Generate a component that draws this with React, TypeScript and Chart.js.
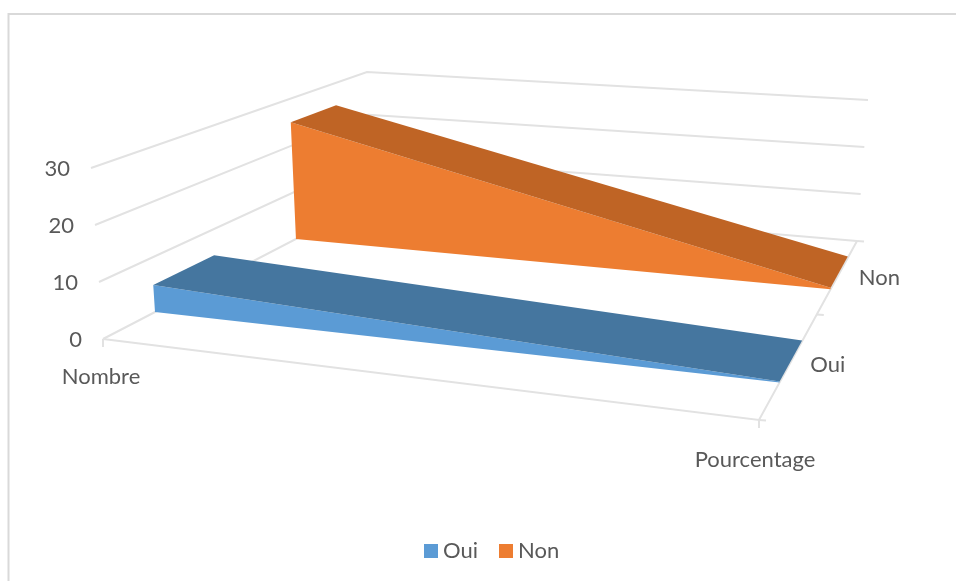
import { useEffect, useRef } from "react";
import { Chart, registerables } from "chart.js";

Chart.register(...registerables);

// Values
const categories = ["Nombre", "Pourcentage"];
const seriesNames = ["Oui", "Non"];
const ouiValues = [5, 0.15];
const nonValues = [25, 0.3];
const valueTicks = [0, 10, 20, 30];

const WIDTH = 956;
const HEIGHT = 581;
const MAX_VALUE = 30;

// Projection of the 3D box: eight corners of the plot cube on the page plane.
const floorCorners = { fl: [103, 339], fr: [759, 420], bl: [371, 200], br: [857, 241] };
const topCorners = { fl: [91, 168], fr: [767, 232], bl: [367, 72], br: [868, 100] };

// Depth band of each series along the left and right floor edges.
const ouiDepth = [[0.194, 0.42], [0.21, 0.44]];
const nonDepth = [[0.72, 0.885], [0.73, 0.905]];

const mix = (a: number[], b: number[], t: number) => [a[0] + (b[0] - a[0]) * t, a[1] + (b[1] - a[1]) * t];

function project(u: number, d: number, value: number) {
  const floor = mix(mix(floorCorners.fl, floorCorners.bl, d), mix(floorCorners.fr, floorCorners.br, d), u);
  const top = mix(mix(topCorners.fl, topCorners.bl, d), mix(topCorners.fr, topCorners.br, d), u);
  const [x, y] = mix(floor, top, value / MAX_VALUE);
  return { x, y };
}

const line = (label: string, data: { x: number; y: number }[], color: string, width = 2) => ({
  type: "line" as const,
  label,
  data,
  borderColor: color,
  backgroundColor: color,
  borderWidth: width,
  pointRadius: 0,
  fill: false,
  tension: 0,
  order: 100,
  clip: false,
});

const face = (label: string, data: { x: number; y: number }[], color: string, order: number) => ({
  type: "line" as const,
  label,
  data,
  borderColor: color,
  backgroundColor: color,
  borderWidth: 0,
  pointRadius: 0,
  fill: "shape",
  tension: 0,
  order,
  clip: false,
});

// Front face and sloped top of one area band.
function band(name: string, values: number[], depth: number[][], front: string, top: string, order: number) {
  const frontFace = [
    project(0, depth[0][0], 0),
    project(0, depth[0][0], values[0]),
    project(1, depth[1][0], values[1]),
    project(1, depth[1][0], 0),
    project(0, depth[0][0], 0),
  ];
  const topFace = [
    project(0, depth[0][0], values[0]),
    project(0, depth[0][1], values[0]),
    project(1, depth[1][1], values[1]),
    project(1, depth[1][0], values[1]),
    project(0, depth[0][0], values[0]),
  ];
  return [face(name, frontFace, front, order + 1), face(name + " (dessus)", topFace, top, order)];
}

const GRID = "#e2e2e2";
const FRAME = "#d9d9d9";
const COLORS = { oui: "#5b9bd5", ouiTop: "#45769f", non: "#ed7d31", nonTop: "#bf6425" };

const gridLines = valueTicks.map((v) =>
  line(`grille ${v}`, [project(0, 0, v), project(0, 1, v), project(1, 1, v)], GRID)
);
const floorEdges = [
  line("axe catégories", [project(0, 0, 0), project(1, 0, 0), project(1, 1, 0)], GRID),
  line("repère Nombre", [project(0, 0, 0), { x: project(0, 0, 0).x, y: project(0, 0, 0).y + 8 }], GRID),
  line("repère Pourcentage", [project(1, 0, 0), { x: project(1, 0, 0).x, y: project(1, 0, 0).y + 8 }], GRID),
  ...[0, 0.59, 1].map((d) => {
    const p = project(1, d, 0);
    return line(`repère profondeur ${d}`, [p, { x: p.x + 7, y: p.y + 0.5 }], GRID);
  }),
];

const FONT = '22px Lato, "Open Sans", sans-serif';
const TEXT = "#595959";

// Tick labels, category labels, legend and the frame of the chart object.
const annotations = {
  id: "annotations",
  beforeDraw(chart: Chart) {
    const { ctx, scales } = chart;
    const X = (v: number) => scales.x.getPixelForValue(v);
    const Y = (v: number) => scales.y.getPixelForValue(v);
    ctx.save();
    ctx.strokeStyle = FRAME;
    ctx.lineWidth = 2;
    ctx.beginPath();
    ctx.moveTo(X(8.5), Y(HEIGHT));
    ctx.lineTo(X(8.5), Y(14));
    ctx.lineTo(X(WIDTH), Y(14));
    ctx.stroke();
    ctx.restore();
  },
  afterDraw(chart: Chart) {
    const { ctx, scales } = chart;
    const X = (v: number) => scales.x.getPixelForValue(v);
    const Y = (v: number) => scales.y.getPixelForValue(v);
    ctx.save();
    ctx.font = FONT;
    ctx.fillStyle = TEXT;
    ctx.textBaseline = "middle";

    ctx.textAlign = "right";
    valueTicks.forEach((v) => {
      const p = project(0, 0, v);
      ctx.fillText(String(v), X(p.x - 21), Y(p.y + 1));
    });

    ctx.textAlign = "center";
    const front = [project(0, 0, 0), project(1, 0, 0)];
    ctx.fillText(categories[0], X(front[0].x - 2), Y(front[0].y + 38));
    ctx.fillText(categories[1], X(front[1].x - 4), Y(front[1].y + 40));

    const depthLabels = [{ d: 0.325, dx: 37, dy: 3 }, { d: 0.83, dx: 39, dy: 6 }];
    seriesNames.forEach((name, i) => {
      const p = project(1, depthLabels[i].d, 0);
      ctx.fillText(name, X(p.x + depthLabels[i].dx), Y(p.y + depthLabels[i].dy));
    });

    // Legend entries take their colour from the front faces of the bands.
    ctx.textAlign = "left";
    const boxX = [424, 499];
    seriesNames.forEach((name, i) => {
      const ds = chart.data.datasets.find((d) => d.label === name);
      ctx.fillStyle = String(ds?.backgroundColor);
      ctx.fillRect(X(boxX[i]), Y(544), 14, 14);
      ctx.fillStyle = TEXT;
      ctx.fillText(name, X(boxX[i] + 19), Y(551));
    });
    ctx.restore();
  },
};

export default function App() {
  const ref = useRef<HTMLCanvasElement>(null);
  useEffect(() => {
    if (!ref.current) return;
    const chart = new Chart(ref.current, {
      type: "line",
      data: {
        datasets: [
          ...gridLines,
          ...floorEdges,
          ...band(seriesNames[0], ouiValues, ouiDepth, COLORS.oui, COLORS.ouiTop, 10),
          ...band(seriesNames[1], nonValues, nonDepth, COLORS.non, COLORS.nonTop, 20),
        ] as any,
      },
      options: {
        animation: false,
        responsive: false,
        layout: { padding: 0 },
        parsing: false,
        scales: {
          x: { type: "linear", display: false, min: 0, max: WIDTH },
          y: { type: "linear", display: false, min: 0, max: HEIGHT, reverse: true },
        },
        plugins: { legend: { display: false }, tooltip: { enabled: false } },
      },
      plugins: [annotations],
    });
    return () => chart.destroy();
  }, []);
  return (
    <div style={{ position: "absolute", left: 0, top: 0, width: WIDTH, height: HEIGHT, background: "#fff" }}>
      <canvas ref={ref} width={WIDTH} height={HEIGHT} style={{ display: "block" }} />
    </div>
  );
}
